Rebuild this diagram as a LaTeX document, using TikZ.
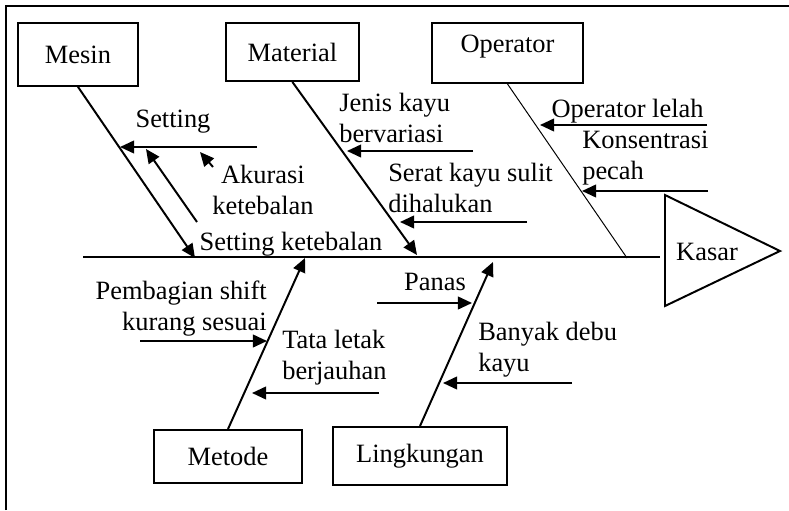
\documentclass[tikz,border=0pt]{standalone}
\usepackage{fontspec}
\setmainfont{Liberation Serif}
\usetikzlibrary{arrows.meta}

\begin{document}
\begin{tikzpicture}[>={Triangle[length=10pt,width=9pt]},every node/.style={font=\fontsize{18.8}{22}\selectfont,inner sep=0pt},box/.style={draw,line width=1.4pt},bone/.style={->,line width=1.4pt},cause/.style={->,line width=1.4pt}]
\useasboundingbox (0,0) rectangle (19.725,12.75);
\draw[line width=1.4pt] (0.15,0)--(0.15,12.6)--(19.725,12.6);
% categories
\node[box,minimum width=3cm,minimum height=1.575cm] (mesin) at (1.95,11.39) {Mesin};
\node[box,minimum width=3.325cm,minimum height=1.45cm] (material) at (7.31,11.45) {Material};
\node[box,minimum width=3.775cm,minimum height=1.5cm,text height=0.4cm,text depth=0.4cm] (operator) at (12.6875,11.425) {Operator};
\node[box,minimum width=3.7cm,minimum height=1.325cm] (metode) at (5.7,1.3375) {Metode};
\node[box,minimum width=4.35cm,minimum height=1.45cm] (lingkungan) at (10.5,1.35) {Lingkungan};
% spine and head
\coordinate (tail) at (2.075,6.325); \coordinate (head) at (16.5,6.325);
\draw[line width=0.8pt] (tail)--(head);
\draw[line width=1.4pt] (16.625,7.875)--(19.5,6.475)--(16.625,5.1)--cycle;
\node (kasar) at (17.675,6.46) {Kasar};
% bones
\coordinate (mesinT) at (4.875,6.3); \coordinate (materialT) at (10.425,6.375); \coordinate (operatorT) at (15.675,6.3);
\coordinate (metodeT) at (7.625,6.3); \coordinate (lingkunganT) at (12.325,6.2);
\draw[bone] (mesin.south)--(mesinT);
\draw[bone] (material.south)--(materialT);
\draw[line width=0.7pt] (operator.south)--(operatorT);
\draw[bone] (metode.north)--(metodeT);
\draw[bone] (lingkungan.north)--(lingkunganT);
% causes
\coordinate (c1a) at (6.425,9.075); \coordinate (c1b) at (3.0,9.075);
\coordinate (c2a) at (4.925,7.2); \coordinate (c2b) at (3.65,9.025);
\coordinate (c3a) at (5.325,8.575); \coordinate (c3b) at (5.0,8.95);
\coordinate (c4a) at (11.825,8.975); \coordinate (c4b) at (8.675,8.975);
\coordinate (c5a) at (13.175,7.2); \coordinate (c5b) at (10.0,7.2);
\coordinate (c6a) at (17.675,9.625); \coordinate (c6b) at (13.5,9.625);
\coordinate (c7a) at (17.7,7.975); \coordinate (c7b) at (14.55,7.975);
\coordinate (c8a) at (3.5,4.225); \coordinate (c8b) at (6.675,4.225);
\coordinate (c9a) at (9.475,2.925); \coordinate (c9b) at (6.3,2.925);
\coordinate (c10a) at (9.425,5.175); \coordinate (c10b) at (11.8,5.175);
\coordinate (c11a) at (14.3,3.175); \coordinate (c11b) at (11.075,3.175);
\foreach \i in {1,...,11} \draw[cause] (c\i a)--(c\i b);
% labels
\node (setting) at (4.325,9.7) {Setting};
\node[align=center] (akurasi) at (6.575,8.0) {Akurasi\\ketebalan};
\node (settingK) at (7.275,6.65) {Setting ketebalan};
\node[align=left,anchor=west] (jenis) at (8.475,9.8) {Jenis kayu\\bervariasi};
\node[align=left,anchor=west] (serat) at (9.7,8.05) {Serat kayu sulit\\dihalukan};
\node (lelah) at (15.69,9.98) {Operator lelah};
\node[align=left,anchor=west] (konsentrasi) at (14.55,8.8) {Konsentrasi\\pecah};
\node[align=right,anchor=east] (shift) at (6.675,5.03) {Pembagian shift\\kurang sesuai};
\node[align=left,anchor=west] (tata) at (7.05,3.8) {Tata letak\\berjauhan};
\node (panas) at (10.875,5.7) {Panas};
\node[align=left,anchor=west] (debu) at (11.95,4.0) {Banyak debu\\kayu};
\end{tikzpicture}
\end{document}
